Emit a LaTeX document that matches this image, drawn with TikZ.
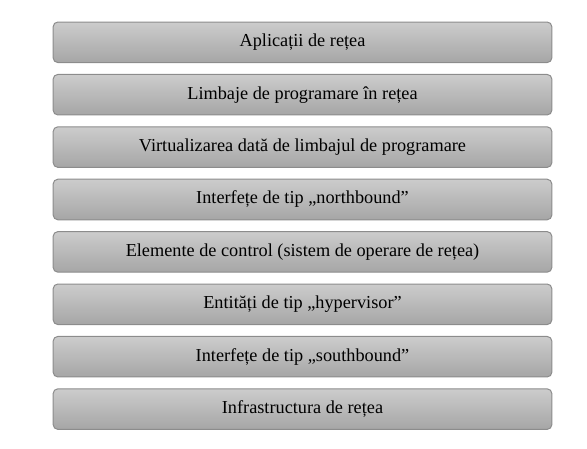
\documentclass[tikz,border=0pt]{standalone}
\usepackage{fontspec}
\setmainfont{Liberation Serif}
\usepackage{tikz}

\begin{document}
\begin{tikzpicture}[x=0.75pt, y=-0.75pt,
        lyr/.style ={draw=black!45, line width=0.75pt, rounded corners=3.5pt,
                     top color=black!20, bottom color=black!35,
                     minimum width=374pt, minimum height=30.4pt,
                     inner sep=0pt, font=\fontsize{13.7}{16}\selectfont},]

    \useasboundingbox (0,0) rectangle (587,449);

    \node[lyr] (A) at (302.5,  42.3) {Aplicații de rețea};
    \node[lyr] (B) at (302.5,  94.7) {Limbaje de programare în rețea};
    \node[lyr] (C) at (302.5, 147.1) {Virtualizarea dată de limbajul de programare};
    \node[lyr] (D) at (302.5, 199.5) {Interfețe de tip „northbound”};
    \node[lyr] (E) at (302.5, 251.9) {Elemente de control (sistem de operare de rețea)};
    \node[lyr] (F) at (302.5, 304.3) {Entități de tip „hypervisor”};
    \node[lyr] (G) at (302.5, 356.7) {Interfețe de tip „southbound”};
    \node[lyr] (H) at (302.5, 409.1) {Infrastructura de rețea};
    \end{tikzpicture}
\end{document}
